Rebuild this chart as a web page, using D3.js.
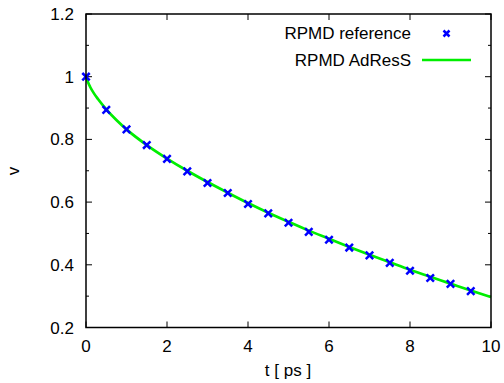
<!DOCTYPE html>
<html>
<head>
<meta charset="utf-8">
<script src="https://cdn.jsdelivr.net/npm/d3@7"></script>
<style>
  body { margin: 0; background: #fff; }
  text { font-family: "Liberation Sans", Arial, sans-serif; fill: #000; }
</style>
</head>
<body>
<div id="chart"></div>
<script>
// reference points (t in ps, v)
const refT = [0, 0.5, 1, 1.5, 2, 2.5, 3, 3.5, 4, 4.5, 5, 5.5, 6, 6.5, 7, 7.5, 8, 8.5, 9, 9.5];
const refV = [1.0, 0.894, 0.832, 0.782, 0.738, 0.698, 0.661, 0.629, 0.594, 0.564,
              0.534, 0.505, 0.480, 0.455, 0.430, 0.406, 0.381, 0.358, 0.339, 0.316];

// AdResS curve
const adT = [0, 0.05, 0.1, 0.2, 0.3, 0.5, 0.75, 1, 1.5, 2, 2.5, 3, 3.5, 4, 4.5, 5,
             5.5, 6, 6.5, 7, 7.5, 8, 8.5, 9, 9.5, 10];
const adV = [1.0, 0.982, 0.968, 0.946, 0.928, 0.896, 0.862, 0.832, 0.782, 0.739, 0.700,
             0.664, 0.630, 0.597, 0.566, 0.537, 0.509, 0.483, 0.457, 0.432, 0.408, 0.384,
             0.362, 0.340, 0.318, 0.297];

const xTicks = [0, 2, 4, 6, 8, 10];
const yTicks = [0.2, 0.4, 0.6, 0.8, 1, 1.2];
const yMinor = [0.3, 0.5, 0.7, 0.9, 1.1];

const width = 504, height = 383;
const margin = { left: 86, right: 13, top: 14, bottom: 56 };
const fs = 17;

const svg = d3.select("#chart").append("svg")
    .attr("width", width)
    .attr("height", height);

const x = d3.scaleLinear().domain([0, 10]).range([margin.left, width - margin.right]);
const y = d3.scaleLinear().domain([0.2, 1.2]).range([height - margin.bottom + 0.5, margin.top]);

const x0 = x.range()[0], x1 = x.range()[1];
const y0 = y.range()[0], y1 = y.range()[1];

// ticks (inside, mirrored)
const tickG = svg.append("g").attr("stroke", "#000").attr("stroke-width", 1);
xTicks.forEach(t => {
    tickG.append("line").attr("x1", x(t)).attr("x2", x(t)).attr("y1", y0).attr("y2", y0 - 6);
    tickG.append("line").attr("x1", x(t)).attr("x2", x(t)).attr("y1", y1).attr("y2", y1 + 6);
});
yTicks.forEach(v => {
    tickG.append("line").attr("x1", x0).attr("x2", x0 + 6).attr("y1", y(v)).attr("y2", y(v));
    tickG.append("line").attr("x1", x1).attr("x2", x1 - 6).attr("y1", y(v)).attr("y2", y(v));
});
yMinor.forEach(v => {
    tickG.append("line").attr("x1", x0).attr("x2", x0 + 3).attr("y1", y(v)).attr("y2", y(v));
    tickG.append("line").attr("x1", x1).attr("x2", x1 - 3).attr("y1", y(v)).attr("y2", y(v));
});

// tick labels
svg.append("g").selectAll("text")
    .data(xTicks)
    .join("text")
    .attr("x", d => x(d))
    .attr("y", 352)
    .attr("text-anchor", "middle")
    .attr("font-size", fs)
    .text(d => d);

svg.append("g").selectAll("text")
    .data(yTicks)
    .join("text")
    .attr("x", 74)
    .attr("y", d => y(d) + 6)
    .attr("text-anchor", "end")
    .attr("font-size", fs)
    .text(d => d);

// axis labels
svg.append("text")
    .attr("x", 288).attr("y", 376)
    .attr("text-anchor", "middle")
    .attr("font-size", fs)
    .text("t [ ps ]");

svg.append("text")
    .attr("transform", "translate(19,171) rotate(-90)")
    .attr("text-anchor", "middle")
    .attr("font-size", fs)
    .text("v");

// curve
const line = d3.line()
    .x((d, i) => x(adT[i]))
    .y(d => y(d))
    .curve(d3.curveMonotoneX);

svg.append("path")
    .datum(adV)
    .attr("fill", "none")
    .attr("stroke", "#00ee00")
    .attr("stroke-width", 2.7)
    .attr("d", line);

// reference crosses
const cross = (cx, cy, s) => `M${cx - s},${cy - s}L${cx + s},${cy + s}M${cx - s},${cy + s}L${cx + s},${cy - s}`;
svg.append("g").selectAll("path")
    .data(refV)
    .join("path")
    .attr("d", (d, i) => cross(x(refT[i]), y(d), 3.7))
    .attr("stroke", "#0000ff")
    .attr("stroke-width", 2.5)
    .attr("fill", "none");

// frame
svg.append("rect")
    .attr("x", x0).attr("y", y1)
    .attr("width", x1 - x0).attr("height", y0 - y1)
    .attr("fill", "none")
    .attr("stroke", "#000")
    .attr("stroke-width", 1.5);

// legend
const leg = svg.append("g");
leg.append("text")
    .attr("x", 411).attr("y", 39)
    .attr("text-anchor", "end")
    .attr("font-size", fs)
    .text("RPMD reference");
leg.append("path")
    .attr("d", cross(446.5, 33.5, 3))
    .attr("stroke", "#0000ff")
    .attr("stroke-width", 2.5);
leg.append("text")
    .attr("x", 411).attr("y", 66)
    .attr("text-anchor", "end")
    .attr("font-size", fs)
    .text("RPMD AdResS");
leg.append("line")
    .attr("x1", 422).attr("x2", 471)
    .attr("y1", 60).attr("y2", 60)
    .attr("stroke", "#00ee00")
    .attr("stroke-width", 2.7);
</script>
</body>
</html>
